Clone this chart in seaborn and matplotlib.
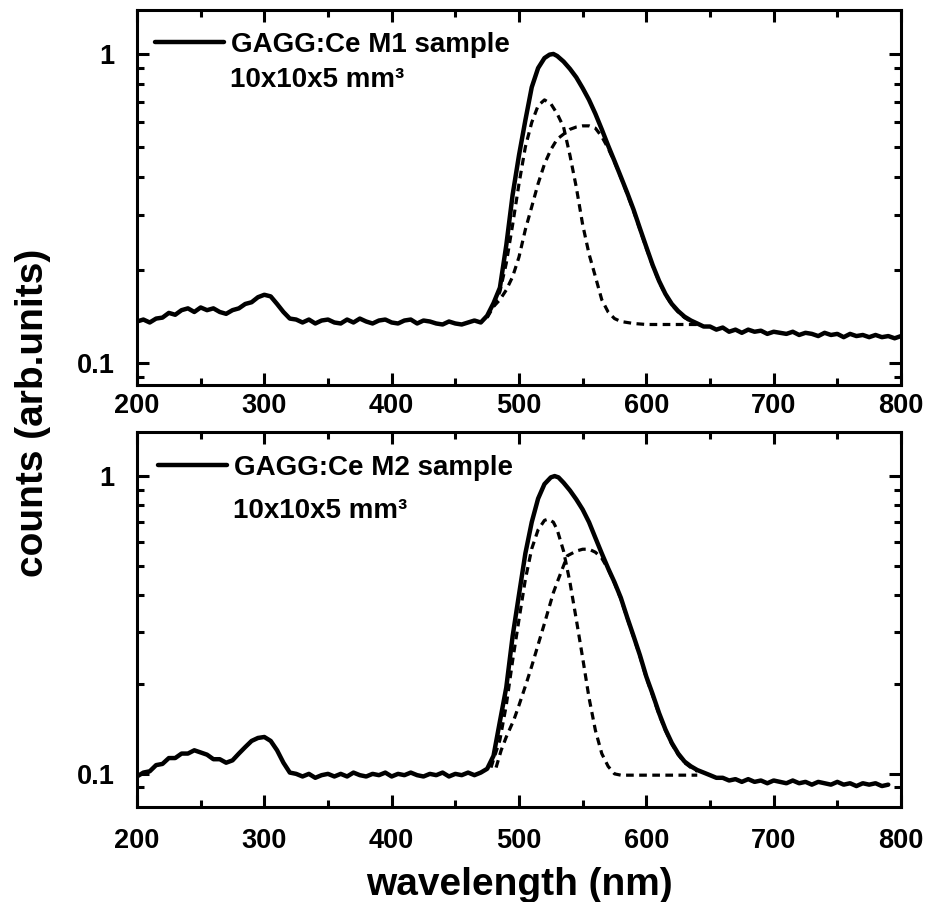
import matplotlib
matplotlib.use("Agg")
import matplotlib.pyplot as plt
import seaborn as sns
from matplotlib.lines import Line2D
from matplotlib.ticker import FixedLocator, NullFormatter

# ---------------- data ----------------
m1_wl = [200, 205, 210, 215, 220, 225, 230, 235, 240, 245, 250, 255, 260, 265, 270, 275,
         280, 285, 290, 295, 300, 305, 310, 315, 320, 325, 330, 335, 340, 345, 350, 355,
         360, 365, 370, 375, 380, 385, 390, 395, 400, 405, 410, 415, 420, 425, 430, 435,
         440, 445, 450, 455, 460, 465, 470, 475, 480, 485, 490, 495, 500, 505, 510, 515,
         520, 524, 527, 530, 535, 540, 545, 550, 555, 560, 565, 570, 575, 580, 585, 590,
         595, 600, 605, 610, 615, 620, 625, 630, 635, 640, 645, 650, 655, 660, 665, 670,
         675, 680, 685, 690, 695, 700, 705, 710, 715, 720, 725, 730, 735, 740, 745, 750,
         755, 760, 765, 770, 775, 780, 785, 790, 795, 800]
m1_counts = [0.136, 0.138, 0.135, 0.139, 0.140, 0.145, 0.143, 0.148, 0.150, 0.146, 0.151, 0.148,
             0.150, 0.146, 0.144, 0.148, 0.150, 0.155, 0.157, 0.163, 0.166, 0.164, 0.155, 0.146,
             0.139, 0.138, 0.135, 0.138, 0.134, 0.137, 0.138, 0.135, 0.134, 0.138, 0.135, 0.139,
             0.136, 0.134, 0.137, 0.138, 0.135, 0.134, 0.137, 0.138, 0.134, 0.137, 0.136, 0.134,
             0.133, 0.136, 0.134, 0.133, 0.135, 0.137, 0.135, 0.142, 0.156, 0.175, 0.240, 0.350,
             0.470, 0.610, 0.780, 0.900, 0.970, 0.995, 1.000, 0.985, 0.945, 0.895, 0.840, 0.775,
             0.710, 0.640, 0.570, 0.505, 0.450, 0.400, 0.355, 0.313, 0.272, 0.237, 0.207, 0.184,
             0.167, 0.155, 0.147, 0.141, 0.137, 0.134, 0.131, 0.131, 0.128, 0.130, 0.126, 0.128,
             0.125, 0.128, 0.126, 0.127, 0.124, 0.126, 0.125, 0.124, 0.126, 0.123, 0.125, 0.124,
             0.122, 0.125, 0.123, 0.124, 0.121, 0.124, 0.122, 0.123, 0.121, 0.123, 0.121, 0.122,
             0.120, 0.122]

m1_fit1_wl = [475, 480, 485, 490, 495, 500, 505, 510, 515, 520, 525, 530, 535, 540, 545, 550,
              555, 560, 565, 570, 575, 580, 590, 600, 620, 640]
m1_fit1 = [0.140, 0.152, 0.170, 0.210, 0.280, 0.380, 0.500, 0.600, 0.680, 0.710, 0.690, 0.640,
           0.580, 0.470, 0.370, 0.280, 0.225, 0.190, 0.160, 0.146, 0.139, 0.136, 0.134, 0.133,
           0.133, 0.133]

m1_fit2_wl = [480, 485, 490, 495, 500, 505, 510, 515, 520, 525, 530, 535, 540, 545, 550, 555,
              560, 565, 570, 575, 580, 585, 590, 595, 600, 605, 610, 615, 620, 625, 630, 635, 640]
m1_fit2 = [0.152, 0.160, 0.172, 0.190, 0.220, 0.270, 0.320, 0.380, 0.440, 0.490, 0.530, 0.550,
           0.570, 0.580, 0.585, 0.585, 0.575, 0.540, 0.495, 0.447, 0.398, 0.352, 0.310, 0.270,
           0.235, 0.206, 0.183, 0.166, 0.154, 0.146, 0.140, 0.136, 0.133]

m2_wl = [200, 205, 210, 215, 220, 225, 230, 235, 240, 245, 250, 255, 260, 265, 270, 275,
         280, 285, 290, 295, 300, 305, 310, 315, 320, 325, 330, 335, 340, 345, 350, 355,
         360, 365, 370, 375, 380, 385, 390, 395, 400, 405, 410, 415, 420, 425, 430, 435,
         440, 445, 450, 455, 460, 465, 470, 475, 480, 485, 490, 495, 500, 505, 510, 515,
         520, 525, 528, 531, 535, 540, 545, 550, 555, 560, 565, 570, 575, 580, 585, 590,
         595, 600, 605, 610, 615, 620, 625, 630, 635, 640, 645, 650, 655, 660, 665, 670,
         675, 680, 685, 690, 695, 700, 705, 710, 715, 720, 725, 730, 735, 740, 745, 750,
         755, 760, 765, 770, 775, 780, 785, 790]
m2_counts = [0.098, 0.101, 0.102, 0.107, 0.108, 0.113, 0.113, 0.117, 0.117, 0.120, 0.118, 0.116,
             0.112, 0.112, 0.109, 0.111, 0.117, 0.123, 0.129, 0.132, 0.133, 0.129, 0.120, 0.109,
             0.101, 0.100, 0.098, 0.100, 0.097, 0.099, 0.100, 0.098, 0.100, 0.098, 0.101, 0.099,
             0.098, 0.100, 0.099, 0.101, 0.098, 0.100, 0.099, 0.101, 0.099, 0.098, 0.100, 0.099,
             0.101, 0.098, 0.100, 0.099, 0.101, 0.099, 0.101, 0.104, 0.115, 0.150, 0.195, 0.290,
             0.400, 0.550, 0.700, 0.840, 0.940, 0.990, 1.000, 0.990, 0.950, 0.895, 0.835, 0.772,
             0.700, 0.620, 0.550, 0.490, 0.440, 0.390, 0.335, 0.290, 0.250, 0.212, 0.185, 0.160,
             0.141, 0.127, 0.117, 0.110, 0.106, 0.103, 0.101, 0.099, 0.097, 0.097, 0.095, 0.096,
             0.094, 0.096, 0.094, 0.095, 0.093, 0.095, 0.094, 0.093, 0.095, 0.093, 0.094, 0.092,
             0.094, 0.093, 0.092, 0.094, 0.092, 0.093, 0.091, 0.093, 0.092, 0.093, 0.091, 0.092]

m2_fit1_wl = [478, 485, 490, 495, 500, 505, 510, 515, 520, 523, 527, 530, 535, 540, 545, 550,
              555, 560, 565, 570, 575, 580, 600, 620, 640]
m2_fit1 = [0.105, 0.130, 0.170, 0.240, 0.330, 0.450, 0.570, 0.660, 0.710, 0.717, 0.700, 0.660,
           0.560, 0.440, 0.330, 0.245, 0.180, 0.140, 0.117, 0.106, 0.100, 0.099, 0.099, 0.099,
           0.099]

m2_fit2_wl = [482, 486, 490, 496, 500, 506, 510, 517, 520, 527, 530, 538, 545, 550, 555, 560,
              565, 570, 575, 580, 585, 590, 595, 600, 605, 610, 615, 620, 625, 630, 635, 640]
m2_fit2 = [0.105, 0.120, 0.133, 0.152, 0.170, 0.203, 0.230, 0.290, 0.320, 0.406, 0.440, 0.540,
           0.560, 0.568, 0.568, 0.555, 0.530, 0.487, 0.437, 0.387, 0.333, 0.288, 0.248, 0.210,
           0.183, 0.158, 0.140, 0.126, 0.116, 0.109, 0.105, 0.102]

labels = ["GAGG:Ce M1 sample", "GAGG:Ce M2 sample"]
size_text = "10x10x5 mm³"
x_ticks = [200, 300, 400, 500, 600, 700, 800]
y_ticks = [0.1, 1]
y_tick_labels = ["0.1", "1"]

# ---------------- style ----------------
sns.set_theme(style="ticks")
plt.rcParams["font.family"] = ["Liberation Sans", "DejaVu Sans"]
plt.rcParams["font.weight"] = "bold"
plt.rcParams["axes.linewidth"] = 2.2
plt.rcParams["text.color"] = "black"
plt.rcParams["axes.labelcolor"] = "black"
plt.rcParams["xtick.color"] = "black"
plt.rcParams["ytick.color"] = "black"
plt.rcParams["axes.edgecolor"] = "black"

fig = plt.figure(figsize=(9.28, 9.02), dpi=100)
ax_top = fig.add_axes([137 / 928, 1 - 385 / 902, 764 / 928, 375 / 902])
ax_bot = fig.add_axes([137 / 928, 1 - 807 / 902, 764 / 928, 375 / 902])

panels = [
    (ax_top, m1_wl, m1_counts, m1_fit1_wl, m1_fit1, m1_fit2_wl, m1_fit2, labels[0],
     (0.0236, 0.907), (0.1217, 0.795), (0.0847, 1.388), 6),
    (ax_bot, m2_wl, m2_counts, m2_fit1_wl, m2_fit1, m2_fit2_wl, m2_fit2, labels[1],
     (0.0275, 0.904), (0.1257, 0.771), (0.0774, 1.406), 15),
]

for ax, wl, cnt, f1w, f1, f2w, f2, lab, legxy, subxy, ylim, xpad in panels:
    for fw, fv in ((f1w, f1), (f2w, f2)):
        sns.lineplot(x=fw, y=fv, ax=ax, color="black", lw=2.3,
                     linestyle=(0, (2.4, 1.7)), estimator=None, sort=False)
    sns.lineplot(x=wl, y=cnt, ax=ax, color="black", lw=3.2, estimator=None, sort=False)
    ax.set_yscale("log")
    ax.set_xlim(200, 800)
    ax.set_ylim(*ylim)
    ax.set_xticks(x_ticks)
    ax.xaxis.set_minor_locator(FixedLocator([250, 350, 450, 550, 650, 750]))
    ax.yaxis.set_major_locator(FixedLocator(y_ticks))
    ax.set_yticklabels(y_tick_labels)
    ax.yaxis.set_minor_locator(FixedLocator([0.09, 0.2, 0.3, 0.4, 0.5, 0.6, 0.7, 0.8, 0.9]))
    ax.yaxis.set_minor_formatter(NullFormatter())
    ax.tick_params(which="both", direction="in", top=True, right=True, width=2.2,
                   colors="black", labelsize=19.5)
    ax.tick_params(which="major", length=8.5)
    ax.tick_params(which="minor", length=5)
    ax.tick_params(axis="x", pad=xpad)
    ax.tick_params(axis="y", pad=16)
    for lbl in ax.get_xticklabels() + ax.get_yticklabels():
        lbl.set_fontweight("bold")
        lbl.set_color("black")
    for sp in ax.spines.values():
        sp.set_color("black")
        sp.set_linewidth(2.2)
    ax.set_xlabel("")
    ax.set_ylabel("")
    leg = ax.legend(handles=[Line2D([], [], color="black", lw=3.2)], labels=[lab],
                    loc="center left", bbox_to_anchor=legxy, frameon=False,
                    handlelength=2.5, handletextpad=0.25, borderpad=0, borderaxespad=0,
                    prop={"weight": "bold", "size": 20})
    for t in leg.get_texts():
        t.set_color("black")
    ax.text(subxy[0], subxy[1], size_text, transform=ax.transAxes, fontsize=20,
            fontweight="bold", ha="left", va="baseline", color="black")

fig.text(33 / 928, 1 - 413 / 902, "counts (arb.units)", rotation=90, fontsize=28,
         fontweight="bold", ha="center", va="center", color="black")
fig.text(519 / 928, 1 - 895 / 902, "wavelength (nm)", fontsize=28, fontweight="bold",
         ha="center", va="baseline", color="black")

fig.savefig("out.png", dpi=100, facecolor="white")
